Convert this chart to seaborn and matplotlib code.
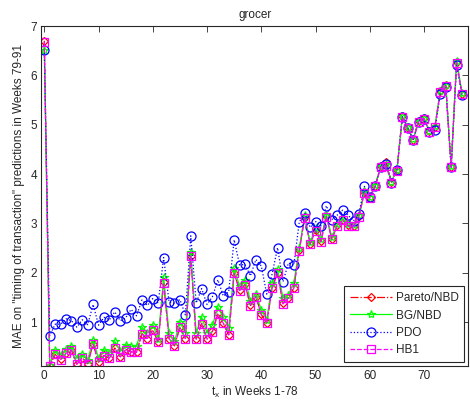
import numpy as np
import pandas as pd
import matplotlib
matplotlib.use("Agg")
import matplotlib.pyplot as plt
import seaborn as sns

weeks = list(range(78))

pareto = [6.70, 0.12, 0.35, 0.25, 0.37, 0.44, 0.15, 0.28, 0.16, 0.56,
          0.19, 0.33, 0.27, 0.48, 0.30, 0.45, 0.40, 0.39, 0.77, 0.67,
          0.85, 0.59, 1.81, 0.67, 0.52, 0.90, 0.67, 2.35, 0.66, 0.98,
          0.66, 0.82, 1.18, 0.98, 0.74, 2.00, 1.65, 1.77, 1.34, 1.52,
          1.16, 0.98, 1.70, 2.00, 1.38, 1.50, 1.70, 2.46, 3.13, 2.59,
          2.86, 2.64, 3.15, 2.69, 2.96, 3.08, 2.96, 2.95, 3.15, 3.63,
          3.52, 3.76, 4.16, 4.25, 3.84, 4.08, 5.17, 4.94, 4.70, 5.08,
          5.13, 4.87, 4.96, 5.68, 5.81, 4.15, 6.28, 5.63]

bgnbd = [6.52, 0.14, 0.44, 0.34, 0.45, 0.52, 0.27, 0.35, 0.24, 0.64,
         0.27, 0.44, 0.37, 0.61, 0.41, 0.54, 0.51, 0.51, 0.90, 0.78,
         0.95, 0.67, 1.91, 0.78, 0.61, 1.01, 0.78, 2.43, 0.78, 1.11,
         0.78, 0.94, 1.30, 1.10, 0.88, 2.09, 1.73, 1.86, 1.44, 1.58,
         1.25, 1.05, 1.79, 2.07, 1.49, 1.55, 1.80, 2.50, 3.17, 2.62,
         2.90, 2.68, 3.18, 2.72, 2.99, 3.10, 2.99, 2.97, 3.17, 3.65,
         3.53, 3.77, 4.16, 4.20, 3.85, 4.09, 5.17, 4.95, 4.71, 5.08,
         5.13, 4.88, 4.97, 5.69, 5.81, 4.16, 6.30, 5.64]

pdo = [6.52, 0.73, 0.96, 0.96, 1.07, 1.03, 0.90, 1.05, 0.95, 1.36,
       0.94, 1.10, 1.05, 1.21, 1.03, 1.09, 1.26, 1.13, 1.45, 1.34,
       1.48, 1.39, 2.31, 1.41, 1.38, 1.46, 1.15, 2.75, 1.39, 1.68,
       1.36, 1.52, 1.86, 1.53, 1.62, 2.67, 2.16, 2.17, 1.94, 2.27,
       2.14, 1.57, 1.98, 2.51, 1.82, 2.20, 2.16, 3.03, 3.22, 2.92,
       3.04, 2.95, 3.36, 3.08, 3.17, 3.27, 3.17, 3.05, 3.20, 3.75,
       3.54, 3.75, 4.15, 4.20, 3.83, 4.08, 5.16, 4.93, 4.69, 5.06,
       5.11, 4.86, 4.89, 5.63, 5.77, 4.14, 6.21, 5.60]

hb1 = [6.68, 0.12, 0.35, 0.24, 0.37, 0.44, 0.15, 0.28, 0.16, 0.56,
       0.19, 0.32, 0.27, 0.47, 0.30, 0.44, 0.40, 0.39, 0.76, 0.67,
       0.84, 0.59, 1.80, 0.67, 0.52, 0.90, 0.67, 2.34, 0.66, 0.97,
       0.66, 0.81, 1.17, 0.98, 0.74, 1.99, 1.64, 1.76, 1.33, 1.52,
       1.15, 0.98, 1.69, 1.99, 1.37, 1.49, 1.69, 2.45, 3.12, 2.58,
       2.85, 2.63, 3.14, 2.68, 2.95, 3.07, 2.95, 2.94, 3.14, 3.62,
       3.51, 3.75, 4.14, 4.16, 3.83, 4.07, 5.15, 4.93, 4.69, 5.06,
       5.11, 4.86, 4.95, 5.67, 5.79, 4.14, 6.26, 5.62]

series_names = ["Pareto/NBD", "BG/NBD", "PDO", "HB1"]
series_values = [pareto, bgnbd, pdo, hb1]
xticks = [0, 10, 20, 30, 40, 50, 60, 70]
yticks = [1, 2, 3, 4, 5, 6, 7]

styles = {
    "Pareto/NBD": dict(color="#ff0000", linestyle="-.", marker="D", markersize=4),
    "BG/NBD": dict(color="#00ff00", linestyle="-", marker="*", markersize=6),
    "PDO": dict(color="#0000ff", linestyle=":", marker="o", markersize=6.5),
    "HB1": dict(color="#ff00ff", linestyle="--", marker="s", markersize=6),
}

sns.set_theme(style="white")
plt.rcParams["font.family"] = ["Liberation Sans", "DejaVu Sans"]
plt.rcParams["xtick.direction"] = "in"
plt.rcParams["ytick.direction"] = "in"
plt.rcParams["mathtext.fontset"] = "custom"
plt.rcParams["mathtext.rm"] = "Liberation Sans"
plt.rcParams["mathtext.it"] = "Liberation Sans"

fig = plt.figure(figsize=(4.7, 4.09), dpi=100)
ax = fig.add_axes([0.0879, 0.1059, 0.9078, 0.8305])

for name, vals in zip(series_names, series_values):
    st = styles[name]
    df = pd.DataFrame({"week": weeks, "mae": vals})
    sns.lineplot(data=df, x="week", y="mae", ax=ax, label=name,
                 color=st["color"], linestyle=st["linestyle"], linewidth=0.9,
                 marker=st["marker"], markersize=st["markersize"],
                 markerfacecolor="none", markeredgecolor=st["color"],
                 markeredgewidth=0.9)

ax.set_xlim(-0.55, 78.1)
ax.set_ylim(0.12, 7)
ax.set_xticks(xticks)
ax.set_yticks(yticks)
ax.tick_params(axis="both", labelsize=8.5, colors="#262626", length=4,
               width=0.6, top=True, right=True, pad=3)
for sp in ax.spines.values():
    sp.set_color("#262626")
    sp.set_linewidth(0.8)

ax.set_title("grocer", fontsize=8.5, color="#262626", pad=6)
ax.set_xlabel(r"$\mathregular{t_x}$ in Weeks 1-78", fontsize=8.5, color="#262626", labelpad=2)
ax.set_ylabel('MAE on "timing of transaction" predictions in Weeks 79-91',
              fontsize=8.5, color="#262626", labelpad=4)

leg = ax.legend(loc="lower right", fontsize=8.5, frameon=True, fancybox=False,
                framealpha=1, edgecolor="#262626", handlelength=3.6,
                borderaxespad=0.3, labelspacing=0.45, handletextpad=0.3,
                borderpad=0.5)
leg.get_frame().set_linewidth(0.8)

fig.savefig("out.png", dpi=100)
